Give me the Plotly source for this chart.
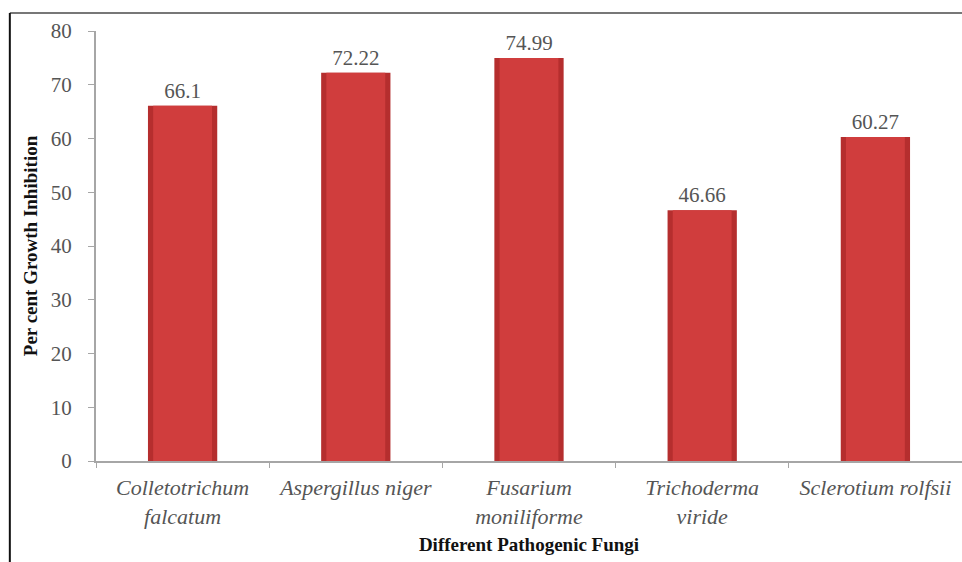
import plotly.graph_objects as go

# Percent growth inhibition of pathogenic fungi
fungi = [
    "Colletotrichum<br>falcatum",
    "Aspergillus niger",
    "Fusarium<br>moniliforme",
    "Trichoderma<br>viride",
    "Sclerotium rolfsii",
]
inhibition = [66.1, 72.22, 74.99, 46.66, 60.27]
value_labels = ["66.1", "72.22", "74.99", "46.66", "60.27"]
y_ticks = [0, 10, 20, 30, 40, 50, 60, 70, 80]

serif = "Liberation Serif, Times New Roman, serif"

fig = go.Figure()

# darker outer body of each column
fig.add_trace(go.Bar(
    x=fungi, y=inhibition, width=0.4,
    marker=dict(color="#b52e2e", line=dict(width=0)),
    text=value_labels, textposition="outside",
    textfont=dict(family=serif, size=21, color="#555555"),
    cliponaxis=False, hoverinfo="skip", showlegend=False,
))
# lighter inner face for a shaded, rounded look
fig.add_trace(go.Bar(
    x=fungi, y=inhibition, width=0.34,
    marker=dict(color="#d03d3d", line=dict(width=0)),
    hoverinfo="skip", showlegend=False,
))

fig.update_layout(
    barmode="overlay",
    width=962, height=562,
    margin=dict(l=96, r=0, t=31, b=101),
    paper_bgcolor="white", plot_bgcolor="white",
    font=dict(family=serif, color="#555555"),
    xaxis=dict(
        range=[-0.5, 4.5],
        showline=True, linecolor="#a6a6a6", linewidth=2,
        ticks="outside", tickson="boundaries", ticklen=5,
        tickcolor="#a6a6a6", tickwidth=1,
        ticklabelstandoff=6,
        tickfont=dict(family=serif, size=22, color="#555555", style="italic"),
        title=dict(text="<b>Different Pathogenic Fungi</b>",
                   font=dict(family=serif, size=19, color="#111111"),
                   standoff=10),
        showgrid=False, fixedrange=True,
    ),
    yaxis=dict(
        range=[0, 80], tickvals=y_ticks,
        showline=True, linecolor="#a6a6a6", linewidth=2,
        ticks="outside", ticklen=6, tickcolor="#a6a6a6", tickwidth=1,
        ticklabelstandoff=12,
        tickfont=dict(family=serif, size=21, color="#555555"),
        title=dict(text="<b>Per cent Growth Inhibition</b>",
                   font=dict(family=serif, size=19, color="#111111"),
                   standoff=8),
        showgrid=False, zeroline=False, fixedrange=True,
    ),
    shapes=[
        # frame lines around the chart
        dict(type="line", xref="paper", yref="paper",
             x0=-0.0995, x1=1.02, y0=1.042, y1=1.042,
             line=dict(color="#777777", width=2)),
        dict(type="line", xref="paper", yref="paper",
             x0=-0.0995, x1=-0.0995, y0=1.042, y1=-0.25,
             line=dict(color="#111111", width=2)),
    ],
)

fig.write_html("out.html")
